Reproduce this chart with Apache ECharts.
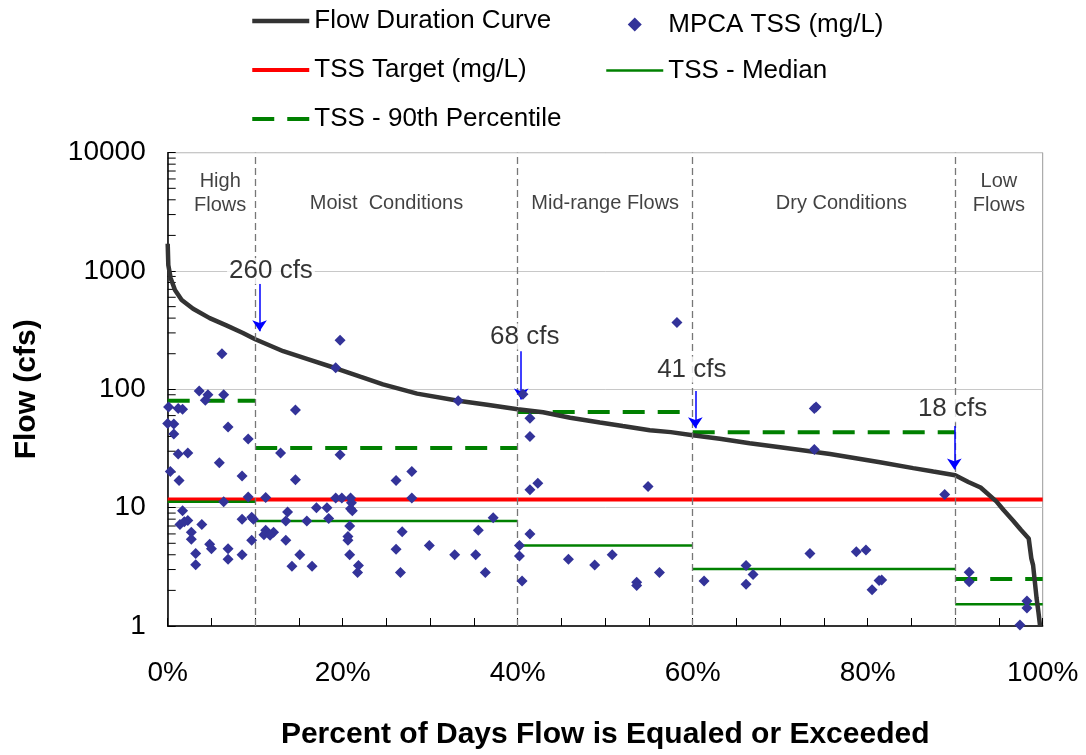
<!DOCTYPE html>
<html>
<head>
<meta charset="utf-8">
<script src="https://cdn.jsdelivr.net/npm/echarts@6/dist/echarts.min.js"></script>
<style>
html, body { margin: 0; padding: 0; background: #fff; }
#chart { width: 1086px; height: 755px; }
</style>
</head>
<body>
<div id="chart"></div>
<script>
// flow duration curve: [percent exceeded, flow cfs]
var flowCurve = [
  [0, 1700], [0.07, 1120], [0.34, 870], [0.83, 690], [1.6, 570], [2.9, 480], [4.8, 400],
  [6.7, 347], [8.6, 299], [10, 265], [13.2, 210], [16, 180], [19.3, 150], [22, 128], [24.6, 110],
  [28.5, 92], [33.2, 80], [36.5, 74], [40, 68], [42.9, 64], [46, 57.5], [49.4, 52.5],
  [52, 49], [55.1, 45.2], [57.5, 43.5], [60, 41], [63.1, 38.3], [66.5, 35], [70, 32.4],
  [75.7, 28.4], [81.4, 24.2], [85.2, 21.6], [87.5, 20.2], [90, 18.8], [91.5, 16.5],
  [92.9, 14.8], [94.7, 11.3], [95.5, 9.6], [96.6, 7.8], [97.5, 6.5], [98.4, 5.5],
  [98.7, 3.73], [98.9, 3.27], [99.3, 1.72], [99.5, 1.33], [99.7, 1.0]
];

// MPCA TSS samples: [percent exceeded, value]
var tssSamples = [
  [6.2, 200], [19.7, 260], [19.2, 152], [3.6, 97], [4.6, 90], [4.3, 81], [6.4, 90],
  [0.1, 71], [1.2, 69], [1.7, 68], [14.6, 67], [0, 51.5], [0.7, 51], [0.7, 42],
  [6.9, 48], [9.2, 38], [1.2, 28.4], [2.3, 29], [12.9, 29], [19.7, 28], [5.9, 24],
  [0.3, 20.2], [1.3, 17], [8.5, 18.5], [14.6, 17.2], [9.2, 12.3], [11.2, 12.2],
  [6.4, 11.2], [19.2, 12.1], [19.9, 12.1], [20.9, 12.1], [1.7, 9.4], [1.4, 7.2],
  [2.3, 7.8], [1.9, 7.6], [2.7, 6.2], [2.7, 5.4], [3.9, 7.2], [3.2, 4.1], [3.2, 3.3],
  [4.8, 4.9], [5.0, 4.5], [6.9, 4.5], [6.9, 3.66], [8.5, 8.0], [9.6, 8.3], [9.8, 8.0],
  [8.5, 4.0], [9.6, 5.3], [11.2, 6.45], [11.0, 5.9], [12.1, 6.2], [11.7, 5.85],
  [13.7, 9.2], [13.5, 7.7], [15.9, 7.7], [17.0, 10.0], [18.2, 10.0], [18.4, 8.1],
  [13.5, 5.3], [15.1, 4.0], [14.2, 3.2], [16.5, 3.2], [20.9, 9.8], [21.1, 9.4],
  [20.8, 7.0], [20.6, 5.7], [20.6, 5.3], [20.8, 4.0], [21.8, 3.24], [21.7, 2.83],
  [33.2, 80], [26.1, 17], [27.9, 20.2], [27.9, 12.1], [21.0, 11.0], [37.2, 8.2],
  [26.8, 6.25], [26.1, 4.46], [26.6, 2.83], [29.9, 4.8], [32.8, 4.0], [35.2, 4.0],
  [35.5, 6.45], [36.3, 2.83],
  [58.2, 368], [40.6, 91], [41.4, 57], [41.4, 40], [41.4, 14.2], [42.3, 16.1],
  [54.9, 15.1], [41.4, 6.0], [40.2, 4.8], [40.2, 3.9], [40.5, 2.4], [45.8, 3.66],
  [48.8, 3.27], [50.8, 4.0], [53.6, 2.34], [53.6, 2.2], [56.2, 2.83], [61.3, 2.4],
  [74.1, 71], [73.9, 69], [73.9, 31], [88.8, 12.9], [73.4, 4.1], [78.7, 4.24],
  [79.8, 4.38], [66.1, 3.24], [66.9, 2.73], [66.1, 2.25], [80.5, 2.02], [81.3, 2.42],
  [81.6, 2.45], [91.6, 2.84], [91.6, 2.37], [98.2, 1.63], [98.2, 1.42], [97.4, 1.02]
];

var targetTss = 11.7;
var zoneEdges = [0, 10, 40, 60, 90, 100];
var medianTss = [11.2, 7.7, 4.8, 3.03, 1.53];
var p90Tss = [80, 32, 64.5, 43.3, 2.5];

var zoneNames = ['High\nFlows', 'Moist  Conditions', 'Mid-range Flows', 'Dry Conditions', 'Low\nFlows'];
var zoneLabelX = [6, 25, 50, 77, 95];
var zoneLabelY = [4520, 3727, 3727, 3727, 4520];

var flowLabels = ['260 cfs', '68 cfs', '41 cfs', '18 cfs'];
var flowLabelX = [11.8, 40.8, 59.9, 89.7];
var flowLabelY = [1000, 279, 147, 68];
var arrowX = [10.5, 40.4, 60.3, 89.9];
var arrowFrom = [780, 210, 97, 49];
var arrowTo = [310, 82, 47, 21];

var yMinorTicks = [2, 3, 4, 5, 6, 7, 8, 9, 20, 30, 40, 50, 60, 70, 80, 90,
  200, 300, 400, 500, 600, 700, 800, 900, 2000, 3000, 4000, 5000, 6000, 7000, 8000, 9000];

var FONT = 'Liberation Sans, Arial, sans-serif';

function segSeries(name, vals, style) {
  return vals.map(function (v, i) {
    return {
      name: name,
      type: 'line',
      data: [[zoneEdges[i], v], [zoneEdges[i + 1], v]],
      symbol: 'none',
      lineStyle: style,
      itemStyle: { color: style.color },
      silent: true
    };
  });
}

var chart = echarts.init(document.getElementById('chart'));

var series = [];
series.push({
  name: 'TSS Target (mg/L)',
  type: 'line',
  data: [[0, targetTss], [100, targetTss]],
  symbol: 'none',
  lineStyle: { color: '#ff0000', width: 4 },
  itemStyle: { color: '#ff0000' },
  markLine: {
    silent: true,
    symbol: 'none',
    label: { show: false },
    lineStyle: { color: '#777', type: [7, 4], width: 1.3 },
    data: zoneEdges.slice(1, -1).map(function (x) { return { xAxis: x }; })
  }
});
series = series.concat(segSeries('TSS - Median', medianTss, { color: '#008000', width: 2.5 }));
series = series.concat(segSeries('TSS - 90th Percentile', p90Tss, { color: '#008000', width: 4, type: [22, 13] }));
series.push({
  name: 'Flow Duration Curve',
  type: 'line',
  data: flowCurve,
  symbol: 'none',
  lineStyle: { color: '#333333', width: 4.5 },
  itemStyle: { color: '#333333' }
});
series.push({
  name: 'MPCA TSS (mg/L)',
  type: 'scatter',
  data: tssSamples,
  symbol: 'diamond',
  symbolSize: 11,
  itemStyle: { color: '#333399', opacity: 1 },
  z: 5
});
// zone names
series.push({
  type: 'scatter',
  symbolSize: 0,
  silent: true,
  data: zoneNames.map(function (n, i) { return { name: n, value: [zoneLabelX[i], zoneLabelY[i]] }; }),
  label: {
    show: true, position: 'inside', formatter: '{b}',
    fontSize: 20, lineHeight: 24.5, color: '#111', fontFamily: FONT
  }
});
// flow annotations with arrows
series.push({
  type: 'scatter',
  symbolSize: 0,
  silent: true,
  z: 6,
  data: flowLabels.map(function (n, i) { return { name: n, value: [flowLabelX[i], flowLabelY[i]] }; }),
  label: {
    show: true, position: 'inside', formatter: '{b}',
    fontSize: 26, color: '#000', fontFamily: FONT,
    backgroundColor: '#fff', padding: [0, 2]
  },
  markLine: {
    silent: true,
    symbol: ['none', 'arrow'],
    symbolSize: 11,
    label: { show: false },
    lineStyle: { color: '#0000ff', width: 1.5, type: 'solid' },
    data: arrowX.map(function (x, i) {
      return [{ coord: [x, arrowFrom[i]] }, { coord: [x, arrowTo[i]] }];
    })
  }
});
// log-axis minor ticks (2..9 per decade), inside
series.push({
  type: 'custom',
  silent: true,
  data: yMinorTicks.map(function (v) { return [0, v]; }),
  encode: { x: 0, y: 1 },
  clip: false,
  renderItem: function (params, api) {
    var p = api.coord([0, api.value(1)]);
    return {
      type: 'line',
      shape: { x1: p[0], y1: p[1], x2: p[0] + 8, y2: p[1] },
      style: { stroke: '#000', lineWidth: 1 }
    };
  }
});

var noDot = { opacity: 0 };

chart.setOption({
  animation: false,
  backgroundColor: '#fff',
  textStyle: { fontFamily: FONT },
  grid: {
    left: 167.7, right: 43.3, top: 152.7, bottom: 127.3,
    show: true, borderColor: '#999', borderWidth: 1
  },
  legend: [
    {
      left: 245, top: 3, orient: 'vertical', itemGap: 23,
      itemWidth: 57, itemHeight: 14,
      textStyle: { fontSize: 26, color: '#000', fontFamily: FONT },
      data: [
        { name: 'Flow Duration Curve', lineStyle: { width: 4.5 }, itemStyle: noDot },
        { name: 'TSS Target (mg/L)', lineStyle: { width: 4 }, itemStyle: noDot },
        { name: 'TSS - 90th Percentile', lineStyle: { width: 4 }, itemStyle: noDot }
      ],
      selectedMode: false
    },
    {
      left: 600, top: 6.5, orient: 'vertical', itemGap: 20,
      itemWidth: 57, itemHeight: 14, symbolKeepAspect: true,
      textStyle: { fontSize: 26, color: '#000', fontFamily: FONT },
      data: [
        { name: 'MPCA TSS (mg/L)', icon: 'path://M0,-1L1,0L0,1L-1,0Z' },
        { name: 'TSS - Median', lineStyle: { width: 2.5 }, itemStyle: noDot }
      ],
      selectedMode: false
    }
  ],
  xAxis: {
    type: 'value', min: 0, max: 100, interval: 5,
    name: 'Percent of Days Flow is Equaled or Exceeded',
    nameLocation: 'middle', nameGap: 94,
    nameTextStyle: { fontSize: 30, fontWeight: 'bold', color: '#000', fontFamily: FONT },
    axisLine: { lineStyle: { color: '#000', width: 1.5 } },
    axisTick: { inside: true, length: 8, lineStyle: { color: '#000' } },
    axisLabel: {
      fontSize: 28, color: '#000', margin: 33, fontFamily: FONT,
      formatter: function (v) { return v % 20 === 0 ? v + '%' : ''; }
    },
    splitLine: { show: false }
  },
  yAxis: {
    type: 'log', logBase: 10, min: 1, max: 10000,
    name: 'Flow (cfs)',
    nameLocation: 'middle', nameGap: 126,
    nameTextStyle: { fontSize: 30, fontWeight: 'bold', color: '#000', fontFamily: FONT },
    axisLine: { lineStyle: { color: '#000', width: 1.5 } },
    axisTick: { inside: true, length: 8, lineStyle: { color: '#000' } },
    axisLabel: {
      fontSize: 28, color: '#000', margin: 22, fontFamily: FONT,
      formatter: function (v) { return String(Math.round(v)); }
    },
    splitLine: { show: true, lineStyle: { color: '#c8c8c8', width: 1 } }
  },
  series: series
});
</script>
</body>
</html>
